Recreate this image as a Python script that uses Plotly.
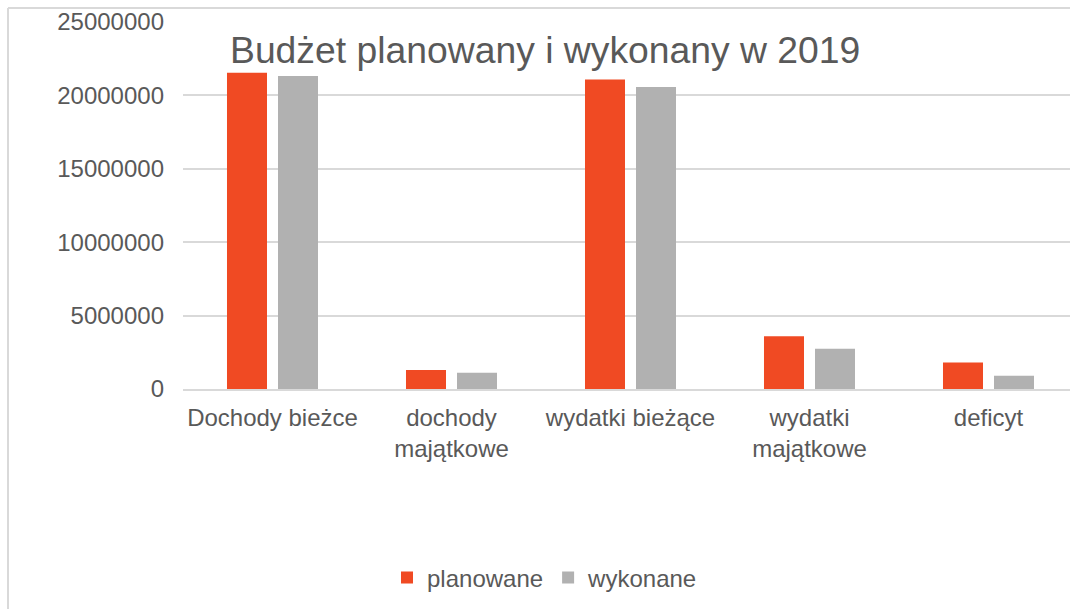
import plotly.graph_objects as go

categories = ["Dochody bieżce", "dochody<br>majątkowe", "wydatki bieżące", "wydatki<br>majątkowe", "deficyt"]
planowane = [21540000, 1290000, 21090000, 3600000, 1810000]
wykonane = [21320000, 1110000, 20570000, 2740000, 900000]
y_ticks = [0, 5000000, 10000000, 15000000, 20000000, 25000000]
title_text = "Budżet planowany i wykonany w 2019"

FONT = "Liberation Sans, Arial, sans-serif"
TXT = "#595959"
GRID = "#D9D9D9"

W, H = 1070, 609
L, R, T, B = 183, 0, 22, 220
pw = W - L - R
ph = H - T - B
cat_w = 179.0

fig = go.Figure()
fig.add_trace(go.Bar(x=categories, y=planowane, name="planowane",
                     marker=dict(color="#F04A23", line=dict(width=0))))
fig.add_trace(go.Bar(x=categories, y=wykonane, name="wykonane",
                     marker=dict(color="#B1B1B1", line=dict(width=0))))

def px_to_paper_x(px):
    return (px - L) / pw

def px_to_paper_y(py):
    return (H - B - py) / ph

fig.update_layout(
    width=W, height=H,
    margin=dict(l=L, r=R, t=T, b=B, pad=0),
    paper_bgcolor="white", plot_bgcolor="white",
    barmode="group", bargap=0.43, bargroupgap=0.2157,
    font=dict(family=FONT, size=24, color=TXT),
    showlegend=True,
    legend=dict(orientation="h", x=px_to_paper_x(545), xanchor="center",
                y=px_to_paper_y(578), yanchor="middle",
                font=dict(family=FONT, size=24, color=TXT),
                itemwidth=30, tracegroupgap=0, bgcolor="rgba(0,0,0,0)"),
    xaxis=dict(range=[-0.5, -0.5 + pw / cat_w], showgrid=False,
               showline=True, linecolor=GRID, linewidth=2,
               ticks="", tickfont=dict(family=FONT, size=24, color=TXT),
               ticklabelstandoff=6, fixedrange=True),
    yaxis=dict(range=[0, 25000000], tickvals=y_ticks,
               ticktext=[str(v) for v in y_ticks],
               showgrid=True, gridcolor=GRID, gridwidth=2,
               zeroline=False, showline=False, ticks="",
               tickfont=dict(family=FONT, size=24, color=TXT),
               ticklabelstandoff=18, fixedrange=True),
    annotations=[dict(text=title_text, xref="paper", yref="paper",
                      x=px_to_paper_x(544.5), y=px_to_paper_y(50),
                      xanchor="center", yanchor="middle", showarrow=False,
                      font=dict(family=FONT, size=37.3, color=TXT))],
    shapes=[
        dict(type="line", xref="paper", yref="paper",
             x0=px_to_paper_x(8), x1=px_to_paper_x(8),
             y0=px_to_paper_y(8), y1=px_to_paper_y(620),
             line=dict(color=GRID, width=2)),
        dict(type="line", xref="paper", yref="paper",
             x0=px_to_paper_x(8), x1=px_to_paper_x(1080),
             y0=px_to_paper_y(8), y1=px_to_paper_y(8),
             line=dict(color=GRID, width=2)),
    ],
    hovermode=False,
)

fig.write_html("out.html", config={"displayModeBar": False, "staticPlot": True})
